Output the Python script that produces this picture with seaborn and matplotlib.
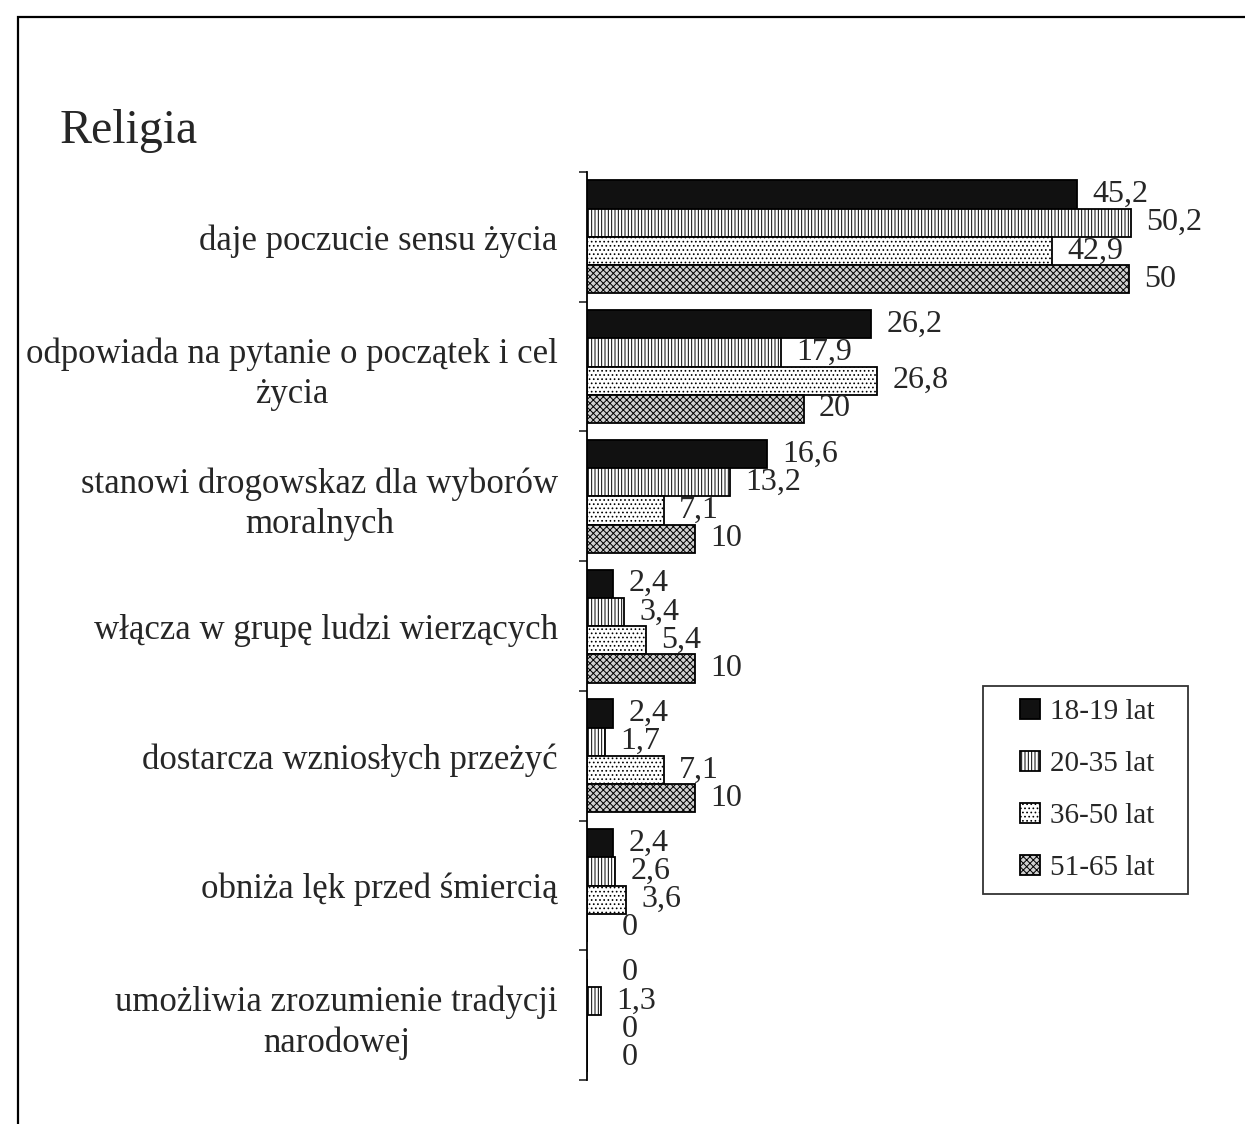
import matplotlib
matplotlib.use("Agg")
import matplotlib.pyplot as plt
import matplotlib.patches as mpatches
from matplotlib.legend_handler import HandlerPatch
import seaborn as sns
import pandas as pd

# categories (top to bottom) and age groups
categories = [
    "daje poczucie sensu życia",
    "odpowiada na pytanie o początek i cel\nżycia",
    "stanowi drogowskaz dla wyborów\nmoralnych",
    "włącza w grupę ludzi wierzących",
    "dostarcza wzniosłych przeżyć",
    "obniża lęk przed śmiercią",
    "umożliwia zrozumienie tradycji\nnarodowej",
]
groups = ["18-19 lat", "20-35 lat", "36-50 lat", "51-65 lat"]

vals_18_19 = [45.2, 26.2, 16.6, 2.4, 2.4, 2.4, 0]
vals_20_35 = [50.2, 17.9, 13.2, 3.4, 1.7, 2.6, 1.3]
vals_36_50 = [42.9, 26.8, 7.1, 5.4, 7.1, 3.6, 0]
vals_51_65 = [50, 20, 10, 10, 10, 0, 0]
series = [vals_18_19, vals_20_35, vals_36_50, vals_51_65]

rows = []
for g, vals in zip(groups, series):
    for c, v in zip(categories, vals):
        rows.append({"kategoria": c, "grupa": g, "procent": v})
df = pd.DataFrame(rows)

sns.set_style("white")
plt.rcParams["font.family"] = ["Liberation Serif", "DejaVu Serif"]
plt.rcParams["hatch.linewidth"] = 0.7

face = {"18-19 lat": "#111111", "20-35 lat": "white",
        "36-50 lat": "white", "51-65 lat": "#d0d0d0"}
hatches = ["", "|||||", "....", "xxxxx"]

fig = plt.figure(figsize=(12.45, 11.24), dpi=100)
ax = fig.add_axes([0.4715, 0.039, 0.5221, 0.808])

sns.barplot(data=df, x="procent", y="kategoria", hue="grupa",
            order=categories, hue_order=groups, orient="h",
            palette=face, saturation=1, width=0.87,
            edgecolor="black", linewidth=1.3, legend=False, ax=ax)


def fmt(v):
    return f"{v:g}".replace(".", ",")


for cont, h, vals in zip(ax.containers, hatches, series):
    for bar in cont:
        bar.set_hatch(h)
    # zero values sit a bit further out, as in the original
    ax.bar_label(cont, labels=[fmt(v) if v else "" for v in vals],
                 padding=11, fontsize=23)
    ax.bar_label(cont, labels=["" if v else fmt(v) for v in vals],
                 padding=25, fontsize=23)

ax.set_xlim(0, 60)
ax.set_ylim(6.5, -0.5)
ax.set_xlabel("")
ax.set_ylabel("")
ax.set_xticks([])
ax.set_yticks(range(len(categories)))
ax.set_yticklabels(categories, fontsize=25, multialignment="center",
                   linespacing=1.3)
ax.set_yticks([i - 0.5 for i in range(len(categories) + 1)], minor=True)
ax.tick_params(axis="y", which="major", length=0, pad=21)
ax.tick_params(axis="y", which="minor", length=6, width=1.2,
               direction="out", left=True)
for side in ["top", "right", "bottom"]:
    ax.spines[side].set_visible(False)
ax.spines["left"].set_linewidth(1.3)
ax.spines["left"].set_color("black")


def right_square(legend, orig_handle, xdescent, ydescent, width, height, fontsize):
    side = height
    return mpatches.Rectangle((width - side - xdescent, -ydescent), side, side)


handles = [cont.patches[0] for cont in ax.containers]
leg = ax.legend(handles, groups, loc="upper left",
                bbox_to_anchor=(983 / 1245, 1 - 686 / 1124 - 0.01, 205 / 1245, 0.01),
                bbox_transform=fig.transFigure, mode="expand",
                borderaxespad=0, fontsize=21, frameon=True, fancybox=False,
                shadow=False, borderpad=0.45, handlelength=1.5,
                handleheight=0.68, handletextpad=0.35, labelspacing=0.88,
                handler_map={mpatches.Rectangle: HandlerPatch(patch_func=right_square)})
leg.get_frame().set_edgecolor("black")
leg.get_frame().set_linewidth(1.3)

# title and page frame
fig.text(60 / 1245, 1 - 143 / 1124, "Religia", fontsize=34.5, va="baseline")
frame = mpatches.Rectangle((18 / 1245, -0.2), 1.2, 0.2 + 1 - 17 / 1124,
                           transform=fig.transFigure, fill=False,
                           edgecolor="black", linewidth=1.6, clip_on=False)
fig.add_artist(frame)

fig.savefig("out.png", dpi=100)
